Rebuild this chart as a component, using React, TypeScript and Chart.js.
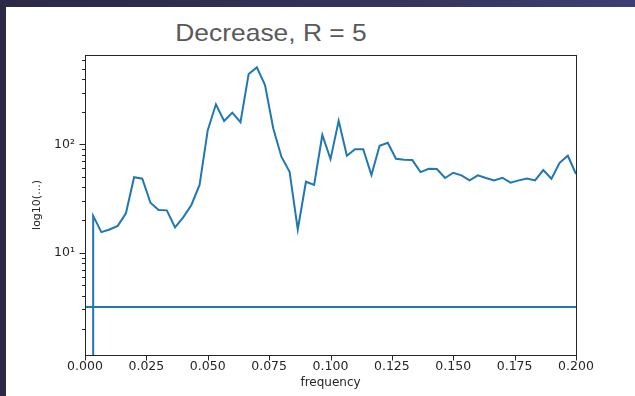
import React, { useEffect, useRef } from "react";
import { Chart, registerables } from "chart.js";

Chart.register(...registerables);

// Spectrum bins (frequency) and their magnitudes
const FREQUENCIES = [
  0.00333, 0.00667, 0.01, 0.01333, 0.01667, 0.02, 0.02333, 0.02667, 0.03, 0.03333,
  0.03667, 0.04, 0.04333, 0.04667, 0.05, 0.05333, 0.05667, 0.06, 0.06333, 0.06667,
  0.07, 0.07333, 0.07667, 0.08, 0.08333, 0.08667, 0.09, 0.09333, 0.09667, 0.1,
  0.10333, 0.10667, 0.11, 0.11333, 0.11667, 0.12, 0.12333, 0.12667, 0.13, 0.13333,
  0.13667, 0.14, 0.14333, 0.14667, 0.15, 0.15333, 0.15667, 0.16, 0.16333, 0.16667,
  0.17, 0.17333, 0.17667, 0.18, 0.18333, 0.18667, 0.19, 0.19333, 0.19667, 0.2,
];

const MAGNITUDES = [
  21.9, 15.5, 16.4, 17.7, 23.1, 49.7, 48.2, 28.9, 24.8, 24.6,
  17.1, 21.2, 27.6, 42.2, 135, 234, 164, 196, 160, 446,
  513, 352, 141, 76.9, 55.9, 16.4, 45.2, 42.2, 122, 73.1,
  165, 78.5, 90, 90, 52.1, 97, 103.5, 73.6, 72.1, 71.6,
  55.5, 59.5, 59.2, 48.9, 54.7, 51.8, 46.5, 51.8, 48.9, 46.5,
  49.2, 44.3, 46.5, 48.5, 46.5, 57.9, 48.2, 67.6, 78.5, 53.2,
];

// The first bin rises from (almost) zero, below the bottom of the log axis
const FLOOR_VALUE = 0.001;
// Horizontal reference level
const THRESHOLD = 3.16;

const X_TICKS = [0, 0.025, 0.05, 0.075, 0.1, 0.125, 0.15, 0.175, 0.2];
const Y_MAJOR = [10, 100];
const Y_MAJOR_LABELS = ["10\u00b9", "10\u00b2"];
const Y_MINOR = [2, 3, 4, 5, 6, 7, 8, 9, 20, 30, 40, 50, 60, 70, 80, 90, 200, 300, 400, 500, 600];

const X_MIN = 0;
const X_MAX = 0.2;
const Y_MIN = 1.14;
const Y_MAX = 667;

const LINE_COLOR = "#1f77b4";
const AXIS_COLOR = "#262626";
const TICK_FONT = { family: "'DejaVu Sans', sans-serif", size: 12.5 };

// Draws the axes box and outward tick marks (major and minor)
const framePlugin = {
  id: "frame",
  afterDraw(chart: any) {
    const { ctx, chartArea, scales } = chart;
    const { left, right, top, bottom } = chartArea;
    const x = scales.x;
    const y = scales.y;
    const L = Math.round(left) + 0.5;
    const R = Math.round(right) + 0.5;
    const T = Math.round(top) + 0.5;
    const B = Math.round(bottom) + 0.5;
    ctx.save();
    ctx.strokeStyle = AXIS_COLOR;
    ctx.lineWidth = 1;
    ctx.strokeRect(L, T, R - L, B - T);
    ctx.beginPath();
    for (const v of X_TICKS) {
      const px = Math.round(x.getPixelForValue(v)) + 0.5;
      ctx.moveTo(px, B);
      ctx.lineTo(px, B + 5);
    }
    for (const v of Y_MAJOR) {
      const py = Math.round(y.getPixelForValue(v)) + 0.5;
      ctx.moveTo(L, py);
      ctx.lineTo(L - 6, py);
    }
    for (const v of Y_MINOR) {
      if (v < Y_MIN || v > Y_MAX) continue;
      const py = Math.round(y.getPixelForValue(v)) + 0.5;
      ctx.moveTo(L, py);
      ctx.lineTo(L - 3.5, py);
    }
    ctx.stroke();
    ctx.restore();
  },
};

function SpectrumChart() {
  const canvasRef = useRef<HTMLCanvasElement | null>(null);

  useEffect(() => {
    const canvas = canvasRef.current;
    if (!canvas) return;

    const spectrum = [
      { x: FREQUENCIES[0], y: FLOOR_VALUE },
      ...FREQUENCIES.map((f, i) => ({ x: f, y: MAGNITUDES[i] })),
    ];

    const chart = new Chart(canvas, {
      type: "line",
      data: {
        datasets: [
          {
            data: spectrum,
            borderColor: LINE_COLOR,
            borderWidth: 2,
            pointRadius: 0,
            tension: 0,
            fill: false,
            clip: 0,
          },
          {
            data: [
              { x: X_MIN, y: THRESHOLD },
              { x: X_MAX, y: THRESHOLD },
            ],
            borderColor: LINE_COLOR,
            borderWidth: 1.8,
            pointRadius: 0,
            tension: 0,
            fill: false,
            clip: 0,
          },
        ],
      },
      options: {
        responsive: false,
        animation: false,
        devicePixelRatio: 1,
        layout: { padding: { top: 55, right: 59, left: 0, bottom: 0 } },
        plugins: {
          legend: { display: false },
          tooltip: { enabled: false },
          title: { display: false },
        },
        scales: {
          x: {
            type: "linear",
            min: X_MIN,
            max: X_MAX,
            afterBuildTicks: (scale: any) => {
              scale.ticks = X_TICKS.map((v) => ({ value: v }));
            },
            afterFit: (scale: any) => {
              scale.height = 41;
            },
            ticks: {
              callback: (v: any) => Number(v).toFixed(3),
              font: TICK_FONT,
              color: AXIS_COLOR,
              padding: 4,
              maxRotation: 0,
              autoSkip: false,
            },
            grid: { display: false, drawTicks: false },
            border: { display: false },
            title: {
              display: true,
              text: "frequency",
              font: { family: "'DejaVu Sans', sans-serif", size: 12 },
              color: AXIS_COLOR,
              padding: { top: 0, bottom: 6 },
            },
          },
          y: {
            type: "logarithmic",
            min: Y_MIN,
            max: Y_MAX,
            afterBuildTicks: (scale: any) => {
              scale.ticks = Y_MAJOR.map((v) => ({ value: v }));
            },
            afterFit: (scale: any) => {
              scale.width = 85;
            },
            ticks: {
              callback: (v: any) => {
                const i = Y_MAJOR.indexOf(Number(v));
                return i >= 0 ? Y_MAJOR_LABELS[i] : "";
              },
              font: TICK_FONT,
              color: AXIS_COLOR,
              padding: 10,
              autoSkip: false,
            },
            grid: { display: false, drawTicks: false },
            border: { display: false },
            title: {
              display: true,
              text: "log10(...)",
              font: { family: "'DejaVu Sans', sans-serif", size: 11 },
              color: AXIS_COLOR,
              padding: { top: 31, bottom: 0 },
            },
          },
        },
      },
      plugins: [framePlugin],
    } as any);

    return () => chart.destroy();
  }, []);

  return (
    <canvas
      ref={canvasRef}
      width={635}
      height={396}
      style={{ position: "absolute", left: 0, top: 0, width: 635, height: 396 }}
    />
  );
}

export default function App() {
  return (
    <div
      style={{
        position: "absolute",
        left: 0,
        top: 0,
        width: 635,
        height: 396,
        overflow: "hidden",
        background: "linear-gradient(90deg, #2b2946 0%, #34335a 60%, #3d3f74 100%)",
      }}
    >
      <div
        style={{
          position: "absolute",
          left: 6,
          top: 7,
          right: 0,
          bottom: 0,
          background: "#ffffff",
        }}
      />
      <div
        style={{
          position: "absolute",
          left: 0,
          width: 542,
          top: 21,
          textAlign: "center",
          fontFamily: "'Liberation Sans', Arial, sans-serif",
          fontSize: 24,
          lineHeight: "24px",
          color: "#595959",
          whiteSpace: "nowrap",
        }}
      >
        <span style={{ display: "inline-block", transform: "scaleX(1.1)" }}>Decrease, R = 5</span>
      </div>
      <SpectrumChart />
    </div>
  );
}
